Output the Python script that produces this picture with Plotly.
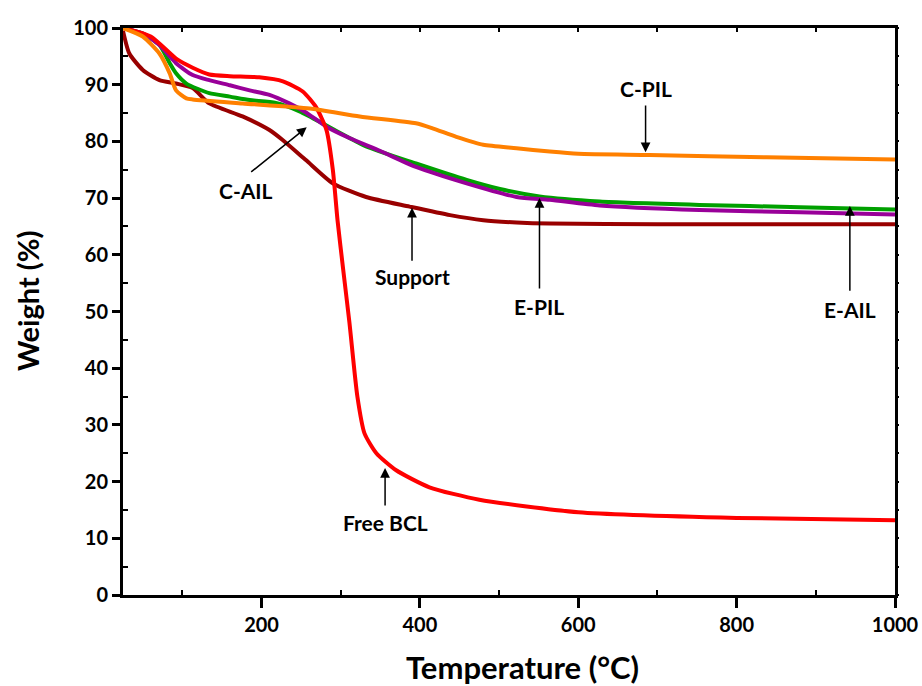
import plotly.graph_objects as go

# Temperature (°C) / Weight (%)
support_T = [25, 33, 50, 71, 92, 113, 134, 176, 210, 227, 256, 290, 332, 387, 438, 480, 522, 564, 700, 850, 1000]
support_W = [99.5, 95.5, 92.6, 90.8, 90.2, 89.4, 86.7, 84.4, 82.0, 80.2, 76.7, 72.6, 70.2, 68.5, 67.0, 66.1, 65.7, 65.5, 65.4, 65.4, 65.4]

bcl_T = [25, 60, 93, 113, 134, 160, 197, 227, 252, 269, 282, 290, 296, 303, 311, 321, 330, 345, 370, 412, 475, 600, 800, 1000]
bcl_W = [100, 98.5, 94.5, 93.0, 91.8, 91.5, 91.3, 90.6, 88.8, 86.0, 82.0, 75.0, 66.0, 57.5, 48.0, 35.0, 28.5, 25.0, 22.0, 19.0, 16.8, 14.6, 13.6, 13.2]

cail_T = [25, 50, 71, 92, 113, 134, 160, 185, 210, 235, 255, 282, 311, 350, 395, 459, 522, 564, 627, 753, 880, 1000]
cail_W = [100, 99.0, 97.0, 93.8, 91.7, 90.8, 89.9, 89.0, 88.2, 86.7, 85.2, 82.6, 80.6, 78.3, 75.5, 72.6, 70.2, 69.7, 68.7, 67.9, 67.5, 67.1]

eail_T = [25, 50, 71, 84, 92, 105, 134, 160, 185, 218, 248, 282, 311, 332, 395, 459, 501, 551, 627, 753, 880, 1000]
eail_W = [100, 99.0, 97.0, 93.8, 92.0, 90.2, 88.5, 87.9, 87.3, 86.8, 85.3, 82.8, 80.6, 79.1, 76.1, 73.2, 71.6, 70.3, 69.4, 68.8, 68.4, 68.0]

cpil_T = [25, 50, 71, 84, 92, 105, 113, 176, 261, 324, 395, 416, 446, 480, 522, 564, 600, 690, 838, 1000]
cpil_W = [100, 98.5, 95.5, 92.0, 89.0, 87.6, 87.4, 86.7, 85.8, 84.4, 83.2, 82.3, 80.8, 79.4, 78.8, 78.2, 77.8, 77.6, 77.2, 76.8]

x_ticks = [200, 400, 600, 800, 1000]
y_ticks = [0, 10, 20, 30, 40, 50, 60, 70, 80, 90, 100]

FONT = "Lato"

fig = go.Figure()
series = [
    ("Support", support_T, support_W, "#990000"),
    ("E-AIL", eail_T, eail_W, "#00A000"),
    ("C-AIL", cail_T, cail_W, "#990099"),
    ("Free BCL", bcl_T, bcl_W, "#FF0000"),
    ("C-PIL", cpil_T, cpil_W, "#FF8000"),
]
for name, t, w, c in series:
    fig.add_trace(go.Scatter(x=t, y=w, mode="lines", name=name,
                             line=dict(color=c, width=4, shape="spline", smoothing=0.6)))

# invisible trace to carry the mirrored top/right tick axes
fig.add_trace(go.Scatter(x=support_T, y=support_W, xaxis="x2", yaxis="y2", mode="lines",
                         line=dict(width=0), opacity=0, hoverinfo="skip", showlegend=False))

# labels: (text, text_x, text_y, tail_x, tail_y, head_x, head_y)
labels = [
    ("C-PIL", 685, 89.4, 685, 86.6, 685, 78.1),
    ("C-AIL", 180, 71.4, 185, 74.4, 257, 82.5),
    ("Support", 390, 56.1, 390, 58.7, 390, 68.3),
    ("E-PIL", 551, 50.8, 551, 53.8, 551, 70.0),
    ("E-AIL", 943, 50.3, 943, 53.4, 943, 68.6),
    ("Free BCL", 357, 12.7, 356, 15.5, 356, 22.4),
]
for txt, tx, ty, ax_, ay_, hx, hy in labels:
    fig.add_annotation(x=tx, y=ty, text=txt, showarrow=False,
                       font=dict(family=FONT, size=21, color="black", weight="bold"))
    fig.add_annotation(x=hx, y=hy, ax=ax_, ay=ay_, axref="x", ayref="y", text="",
                       showarrow=True, arrowhead=2, arrowsize=1.3, arrowwidth=1.5, arrowcolor="black")

# axis titles
fig.add_annotation(xref="paper", yref="paper", x=0.518, y=-0.127, yanchor="middle",
                   text="Temperature (°C)", showarrow=False,
                   font=dict(family=FONT, size=31, color="black", weight="bold"))
fig.add_annotation(xref="paper", yref="paper", x=-0.1244, y=0.52, xanchor="center", yanchor="middle",
                   text="Weight (%)", textangle=-90, showarrow=False,
                   font=dict(family=FONT, size=29, color="black", weight="bold"))

fig.update_layout(
    width=922, height=686,
    margin=dict(l=123, r=27, t=28, b=91),
    paper_bgcolor="white", plot_bgcolor="white",
    showlegend=False,
    font=dict(family=FONT, color="black"),
    xaxis=dict(
        range=[25, 1000], tickvals=x_ticks, ticktext=[str(v) for v in x_ticks],
        showgrid=False, zeroline=False, automargin=False,
        showline=True, linecolor="black", linewidth=3, mirror=True,
        ticks="outside", ticklen=10, tickwidth=2.5, tickcolor="black",
        minor=dict(tickvals=[100, 300, 500, 700, 900], ticks="inside", ticklen=5, tickwidth=1.5, tickcolor="black"),
        tickfont=dict(family=FONT, size=20, weight="bold"),
    ),
    yaxis=dict(
        range=[0, 100], tickvals=y_ticks, ticktext=[str(v) for v in y_ticks],
        showgrid=False, zeroline=False, automargin=False,
        showline=True, linecolor="black", linewidth=3, mirror=True,
        ticks="outside", ticklen=8, tickwidth=2.5, tickcolor="black",
        minor=dict(tickvals=[5, 15, 25, 35, 45, 55, 65, 75, 85, 95], ticks="inside", ticklen=5, tickwidth=1.5, tickcolor="black"),
        tickfont=dict(family=FONT, size=20, weight="bold"),
    ),
    xaxis2=dict(
        overlaying="x", side="top", range=[25, 1000], dtick=100, tick0=0,
        showticklabels=False, showgrid=False, zeroline=False, automargin=False,
        ticks="inside", ticklen=4, tickwidth=1.5, tickcolor="black", showline=False,
    ),
    yaxis2=dict(
        overlaying="y", side="right", range=[0, 100], dtick=5, tick0=0,
        showticklabels=False, showgrid=False, zeroline=False, automargin=False,
        ticks="outside", ticklen=3, tickwidth=1.5, tickcolor="black", showline=False,
    ),
)

fig.write_html("out.html", config={"displayModeBar": False},
               post_script="document.body.style.margin='0';")
